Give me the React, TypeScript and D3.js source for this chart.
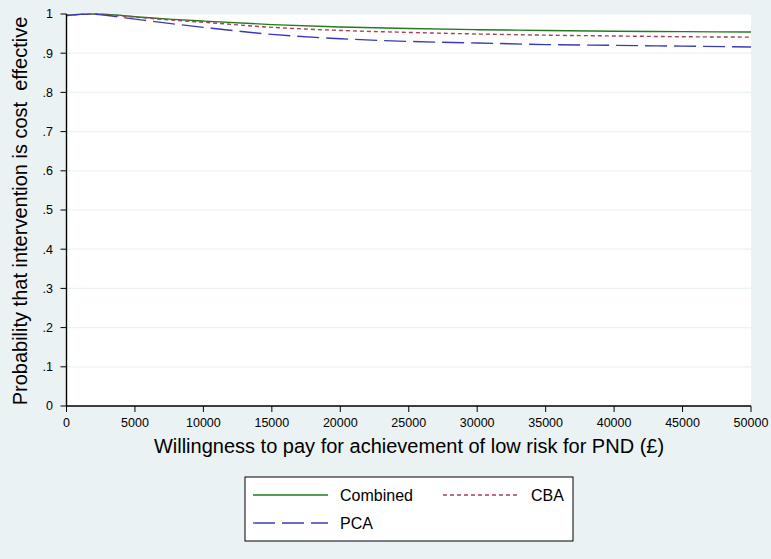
import React from "react";
import * as d3 from "d3";

const wtp = [0, 1000, 2000, 3000, 5000, 7500, 10000, 15000, 20000, 25000, 30000, 35000, 40000, 45000, 50000];
const combined = [0.996, 0.999, 1.0, 0.999, 0.993, 0.987, 0.982, 0.973, 0.967, 0.963, 0.96, 0.958, 0.956, 0.955, 0.954];
const cba = [0.996, 0.999, 1.0, 0.998, 0.992, 0.985, 0.979, 0.966, 0.958, 0.953, 0.949, 0.946, 0.944, 0.942, 0.941];
const pca = [0.996, 0.999, 0.999, 0.996, 0.987, 0.976, 0.966, 0.948, 0.937, 0.93, 0.926, 0.922, 0.92, 0.918, 0.916];

const xTicks = [0, 5000, 10000, 15000, 20000, 25000, 30000, 35000, 40000, 45000, 50000];
const yTicks = [0, 0.1, 0.2, 0.3, 0.4, 0.5, 0.6, 0.7, 0.8, 0.9, 1];
const yTickLabels = ["0", ".1", ".2", ".3", ".4", ".5", ".6", ".7", ".8", ".9", "1"];

const seriesNames = ["Combined", "CBA", "PCA"];

const W = 771;
const H = 559;
const FONT = "'Liberation Sans', Arial, Helvetica, sans-serif";

export default function App() {
  const x = d3.scaleLinear().domain([0, 50000]).range([66.5, 751]);
  const y = d3.scaleLinear().domain([0, 1]).range([406, 14]);
  const line = d3
    .line<[number, number]>()
    .x((d) => x(d[0]))
    .y((d) => y(d[1]))
    .curve(d3.curveMonotoneX);

  const series = [
    { name: seriesNames[0], vals: combined, color: "#1e7d1e", dash: undefined as string | undefined },
    { name: seriesNames[1], vals: cba, color: "#a8405a", dash: "4 3" },
    { name: seriesNames[2], vals: pca, color: "#3a3ab8", dash: "22 7" },
  ];

  const [x0, x1] = x.range();
  const [y0, y1] = y.range();

  return (
    <svg
      width={W}
      height={H}
      style={{ position: "absolute", left: 0, top: 0, fontFamily: FONT }}
    >
      <rect x={0} y={0} width={W} height={H} fill="#eaf2f3" />
      <rect x={x0} y={y1} width={x1 - x0} height={y0 - y1} fill="#ffffff" />
      {yTicks.map((t) => (
        <line key={"g" + t} x1={x0} x2={x1} y1={y(t)} y2={y(t)} stroke="#eaf2f3" strokeWidth={1.2} />
      ))}
      {series.map((s) => (
        <path
          key={s.name}
          d={line(wtp.map((w, i) => [w, s.vals[i]] as [number, number])) || ""}
          fill="none"
          stroke={s.color}
          strokeWidth={1.4}
          strokeDasharray={s.dash}
        />
      ))}
      {/* axes */}
      <line x1={x0} x2={x0} y1={y1} y2={y0} stroke="#000" strokeWidth={1.4} />
      <line x1={x0} x2={x1} y1={y0} y2={y0} stroke="#000" strokeWidth={1.4} />
      {yTicks.map((t, i) => (
        <g key={"yt" + t}>
          <line x1={x0 - 6} x2={x0} y1={y(t)} y2={y(t)} stroke="#000" strokeWidth={1} />
          <text x={53} y={y(t) + 4.3} fontSize={12.5} textAnchor="end" fill="#000">
            {yTickLabels[i]}
          </text>
        </g>
      ))}
      {xTicks.map((t) => (
        <g key={"xt" + t}>
          <line x1={x(t)} x2={x(t)} y1={y0} y2={y0 + 6} stroke="#000" strokeWidth={1} />
          <text x={x(t)} y={427} fontSize={12.5} textAnchor="middle" fill="#000">
            {t}
          </text>
        </g>
      ))}
      <text x={409} y={453} fontSize={20} textAnchor="middle" fill="#000">
        Willingness to pay for achievement of low risk for PND (£)
      </text>
      <text
        transform={`translate(26.5,211) rotate(-90)`}
        fontSize={20}
        textAnchor="middle"
        fill="#000"
        style={{ whiteSpace: "pre" }}
      >
        {"Probability that intervention is cost  effective"}
      </text>
      {/* legend */}
      <rect x={245} y={477} width={328} height={64} fill="#fff" stroke="#000" strokeWidth={1} />
      <line x1={253} x2={328} y1={495} y2={495} stroke={series[0].color} strokeWidth={1.3} />
      <text x={340} y={500.5} fontSize={16} fill="#000">{series[0].name}</text>
      <line x1={443} x2={518} y1={495} y2={495} stroke={series[1].color} strokeWidth={1.3} strokeDasharray={series[1].dash} />
      <text x={531} y={500.5} fontSize={16} fill="#000">{series[1].name}</text>
      <line x1={253} x2={328} y1={523} y2={523} stroke={series[2].color} strokeWidth={1.3} strokeDasharray={series[2].dash} />
      <text x={340} y={528.5} fontSize={16} fill="#000">{series[2].name}</text>
    </svg>
  );
}
